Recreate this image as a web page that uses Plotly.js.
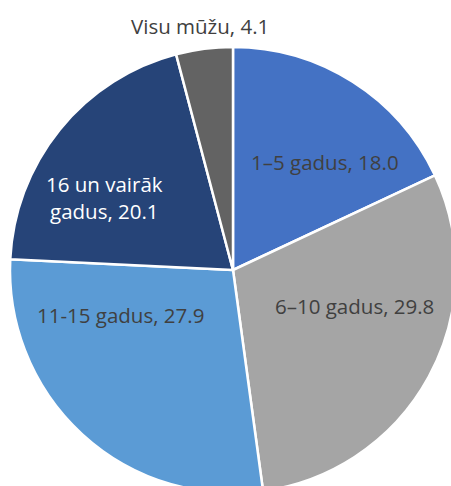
<!DOCTYPE html>
<html>
<head>
<meta charset="utf-8">
<script src="https://cdn.plot.ly/plotly-3.0.1.min.js"></script>
<style>
html,body{margin:0;padding:0;overflow:hidden;background:#fff;}
#chart{width:466px;height:503px;}
</style>
</head>
<body>
<div id="chart"></div>
<script>
// ---- data ----
const categories = ["1–5 gadus", "6–10 gadus", "11-15 gadus", "16 un vairāk gadus", "Visu mūžu"];
const values = [18.0, 29.8, 27.9, 20.1, 4.1];

// ---- styles / layout ----
const W = 466, H = 503;
const colors = ["#4472C4", "#A5A5A5", "#5B9BD5", "#264478", "#636363"];
const textColors = ["#404040", "#404040", "#404040", "#FFFFFF", "#404040"];
const labelBreaks = ["1–5 gadus", "6–10 gadus", "11-15 gadus", "16 un vairāk<br>gadus", "Visu mūžu"];
const labelPx = [[325, 162], [354, 306], [120, 315], [104, 198], [200, 26]]; // label centres (px)
const FONT = "Open Sans, sans-serif";
const FSIZE = 20.5;

const trace = {
  type: "pie",
  labels: categories,
  values: values,
  textinfo: "none",
  textposition: "none",
  sort: false,
  direction: "clockwise",
  rotation: 0,
  marker: {colors: colors, line: {color: "#FFFFFF", width: 2.5}},
  domain: {x: [10 / W, 456 / W], y: [1 - 493 / H, 1 - 47 / H]},
  showlegend: false,
  automargin: false
};

const annotations = categories.map((c, i) => ({
  xref: "paper", yref: "paper",
  x: labelPx[i][0] / W, y: 1 - labelPx[i][1] / H,
  xanchor: "center", yanchor: "middle",
  text: labelBreaks[i] + ", " + values[i].toFixed(1),
  showarrow: false,
  align: "center",
  font: {family: FONT, size: FSIZE, color: textColors[i]}
}));

Plotly.newPlot("chart", [trace], {
  width: W, height: H,
  margin: {l: 0, r: 0, t: 0, b: 0},
  paper_bgcolor: "#FFFFFF",
  showlegend: false,
  annotations: annotations
}, {staticPlot: true, displayModeBar: false});
</script>
</body>
</html>
